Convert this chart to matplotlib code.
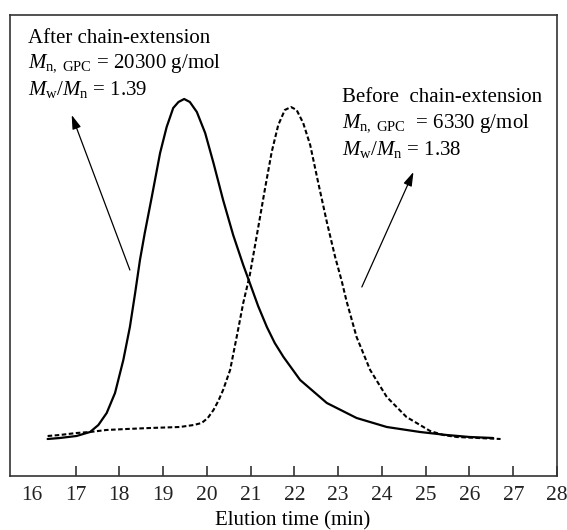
import matplotlib
matplotlib.use("Agg")
import matplotlib.pyplot as plt

# elution time (min) and detector signal (a.u.)
after_time = [16.36, 16.64, 17.02, 17.33, 17.52, 17.71, 17.90, 18.09, 18.24, 18.36,
              18.47, 18.58, 18.74, 18.93, 19.08, 19.23, 19.35, 19.48, 19.61, 19.77,
              19.96, 20.15, 20.37, 20.60, 20.83, 20.98, 21.17, 21.37, 21.55, 21.75,
              22.13, 22.74, 23.42, 24.11, 24.87, 25.48, 26.00, 26.54]
after_signal = [0.00, 0.01, 0.03, 0.07, 0.14, 0.26, 0.46, 0.79, 1.12, 1.46,
                1.79, 2.06, 2.42, 2.86, 3.12, 3.31, 3.37, 3.40, 3.37, 3.27,
                3.06, 2.76, 2.39, 2.04, 1.74, 1.56, 1.33, 1.12, 0.96, 0.82,
                0.59, 0.36, 0.21, 0.12, 0.07, 0.04, 0.02, 0.01]

before_time = [16.36, 16.64, 17.02, 17.33, 17.70, 18.17, 18.70, 19.38, 19.70, 19.88,
               20.02, 20.15, 20.26, 20.37, 20.53, 20.68, 20.83, 20.98, 21.17, 21.33,
               21.48, 21.63, 21.78, 21.92, 22.05, 22.20, 22.36, 22.54, 22.74, 22.93,
               23.08, 23.19, 23.42, 23.73, 24.11, 24.56, 24.87, 25.10, 25.40, 25.71,
               26.20, 26.71]
before_signal = [0.03, 0.04, 0.06, 0.07, 0.09, 0.10, 0.11, 0.12, 0.14, 0.16,
                 0.21, 0.29, 0.38, 0.49, 0.69, 1.02, 1.36, 1.64, 2.11, 2.51,
                 2.87, 3.14, 3.29, 3.32, 3.29, 3.16, 2.94, 2.57, 2.17, 1.82,
                 1.58, 1.38, 1.02, 0.69, 0.42, 0.22, 0.14, 0.08, 0.04, 0.02,
                 0.01, 0.00]

tick_values = list(range(16, 29))

plt.rcParams["font.family"] = ["Liberation Serif", "DejaVu Serif"]
plt.rcParams["mathtext.fontset"] = "custom"
plt.rcParams["mathtext.rm"] = "Liberation Serif"
plt.rcParams["mathtext.it"] = "Liberation Serif:italic"


def main():
    fig = plt.figure(figsize=(5.67, 5.30), dpi=100)
    ax = fig.add_axes([0.0176, 0.1019, 0.9648, 0.8698])

    ax.plot(after_time, after_signal, color="black", lw=1.6,
            solid_joinstyle="round", solid_capstyle="round")
    ax.plot(before_time, before_signal, color="black", lw=1.5,
            linestyle=(0, (2.2, 1.2)), dash_joinstyle="round")

    ax.set_xlim(15.5, 28)
    ax.set_ylim(-0.37, 4.24)
    ax.set_yticks([])
    ax.set_xticks(tick_values)
    ax.tick_params(axis="x", direction="in", length=7, width=1.1,
                   labelsize=15.5, pad=7, colors="#222222")
    ax.xaxis.get_major_ticks()[0].tick1line.set_visible(False)
    for sp in ax.spines.values():
        sp.set_linewidth(1.2)
        sp.set_color("#333333")

    ax.set_xlabel("Elution time (min)", fontsize=15)
    ax.xaxis.set_label_coords(0.517, -0.077)

    # left annotation (after chain-extension)
    ax.text(15.91, 3.96, "After chain-extension", fontsize=15, va="baseline")
    ax.text(15.91, 3.71, r"$M_{\mathrm{n,\ GPC}}$ = 20300 g/mol", fontsize=15, va="baseline")
    ax.text(15.91, 3.44, r"$M_{\mathrm{w}}/M_{\mathrm{n}}$ = 1.39", fontsize=15, va="baseline")
    ax.annotate("", xy=(16.91, 3.24), xytext=(18.24, 1.69),
                arrowprops=dict(arrowstyle="-|>,head_length=0.7,head_width=0.22",
                                color="black", lw=0.9, mutation_scale=12,
                                shrinkA=0, shrinkB=0))

    # right annotation (before chain-extension)
    ax.text(23.08, 3.37, "Before  chain-extension", fontsize=15, va="baseline")
    ax.text(23.08, 3.11, r"$M_{\mathrm{n,\ GPC}}$  = 6330 g/mol", fontsize=15, va="baseline")
    ax.text(23.08, 2.84, r"$M_{\mathrm{w}}/M_{\mathrm{n}}$ = 1.38", fontsize=15, va="baseline")
    ax.annotate("", xy=(24.72, 2.67), xytext=(23.54, 1.52),
                arrowprops=dict(arrowstyle="-|>,head_length=0.7,head_width=0.22",
                                color="black", lw=0.9, mutation_scale=12,
                                shrinkA=0, shrinkB=0))

    fig.savefig("out.png", dpi=100)
    plt.close(fig)


if __name__ == "__main__":
    main()
